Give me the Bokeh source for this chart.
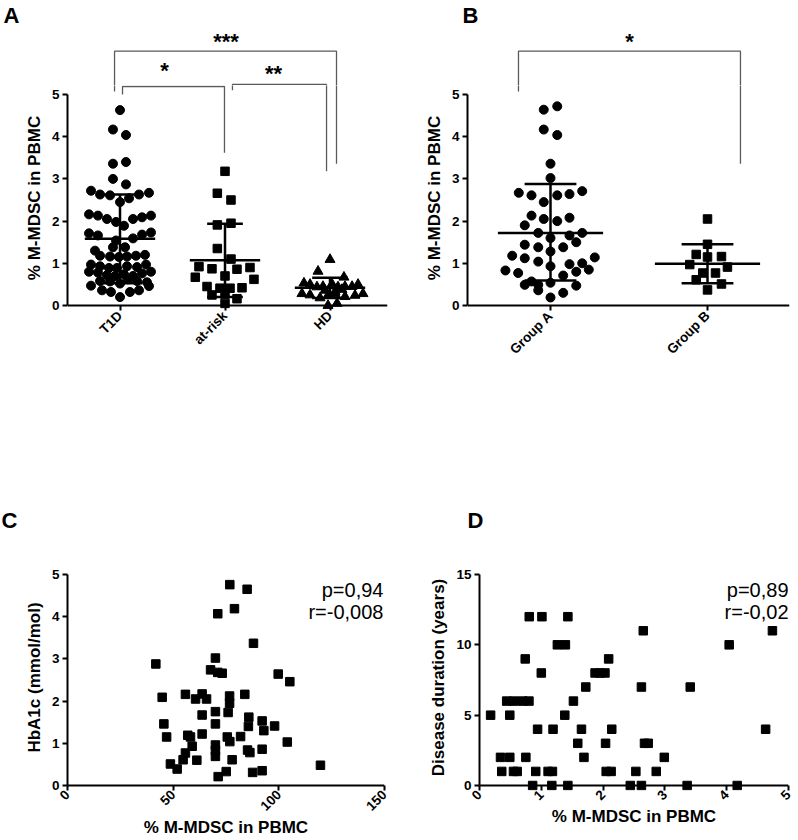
import math
from bokeh.plotting import figure
from bokeh.models import Range1d, FixedTicker, Span
from bokeh.layouts import row, column
from bokeh.embed import file_html
from bokeh.resources import INLINE
from bokeh.core.properties import value

FONT = "Liberation Sans"

# ---------------- Panel A data ----------------
cats_a = ["T1D", "at-risk", "HD"]
t1d_y = [4.63, 4.17, 4.04, 3.36, 3.40, 3.00, 2.87,
         2.72, 2.63, 2.61, 2.45, 2.54, 2.63, 2.67,
         2.16, 2.13, 2.05, 1.98, 1.89, 2.05, 2.09, 2.13,
         1.71, 1.66, 1.54, 1.59, 1.68, 1.73,
         1.30, 1.38, 1.38,
         1.18, 1.16, 1.15, 1.16, 1.18, 1.20,
         0.97, 0.93, 0.89, 0.89, 0.93, 0.91, 0.97,
         0.80, 0.78, 0.72, 0.70, 0.74, 0.70, 0.76, 0.80,
         0.58, 0.57, 0.52, 0.62, 0.58, 0.55,
         0.47, 0.46,
         0.36, 0.32, 0.32, 0.36,
         0.20]
t1d_jit = [0, -0.067, 0.057, -0.067, 0.057, -0.067, 0.057,
           -0.276, -0.19, -0.095, 0, 0.086, 0.181, 0.276,
           -0.295, -0.21, -0.124, -0.038, 0.038, 0.124, 0.21, 0.295,
           -0.295, -0.21, -0.038, 0.124, 0.21, 0.295,
           -0.238, -0.067, 0.048,
           -0.19, -0.095, -0.01, 0.067, 0.152, 0.238,
           -0.276, -0.19, -0.105, -0.029, 0.067, 0.162, 0.248,
           -0.295, -0.21, -0.124, -0.048, 0.038, 0.124, 0.21, 0.295,
           -0.19, -0.095, 0, 0.076, 0.162, 0.257,
           -0.276, 0.276,
           -0.171, -0.086, 0.095, 0.181,
           0]
risk_y = [3.18, 2.66, 2.50, 1.91, 1.95, 1.35, 1.10, 0.92, 0.87, 0.86, 0.90,
          0.67, 0.70, 0.62, 0.45, 0.41, 0.41, 0.42, 0.25, 0.27, 0.16, 0.05]
risk_jit = [0, -0.073, 0.057, -0.073, 0.057, -0.073, 0.057, -0.248, -0.124, 0.114, 0.238,
            -0.283, 0, 0.276, -0.171, -0.048, 0.048, 0.162, -0.124, 0, 0.114, 0]
hd_y = [1.09, 0.81, 0.67,
        0.53, 0.50, 0.44, 0.45, 0.51, 0.44, 0.45, 0.45, 0.50,
        0.28, 0.25, 0.18, 0.24, 0.28, 0.21, 0.24, 0.28,
        0.00, 0.05, 0.36, 0.33, 0.38]
hd_jit = [0, -0.114, 0.133,
          -0.248, -0.19, -0.124, -0.067, 0.019, 0.076, 0.143, 0.21, 0.267,
          -0.267, -0.19, -0.095, -0.019, 0.048, 0.143, 0.238, 0.314,
          -0.019, 0.067, -0.048, 0.048, 0.114]
a_mean = [1.58, 1.07, 0.42]
a_sd_hi = [2.63, 1.94, 0.66]
a_sd_lo = [0.53, 0.20, 0.18]
a_cap = [0.21, 0.17, 0.17]

# brackets: (x_left, x_right, y_top, y_left_end, y_right_end, stars, x_text, y_text)
a_brackets = [
    (0.948, 3.062, 6.04, 5.07, 3.36, "***", 2.01, 6.28),
    (1.024, 1.995, 5.19, 5.00, 3.62, "*", 1.424, 5.569),
    (2.071, 2.967, 5.24, 5.10, 3.18, "**", 2.462, 5.51),
]

# ---------------- Panel B data ----------------
cats_b = ["Group A", "Group B"]
ga_y = [4.64, 4.72, 4.17, 4.04, 3.36, 3.02,
        2.67, 2.61, 2.45, 2.61, 2.64, 2.71,
        2.13, 2.05, 2.00, 2.08,
        1.90, 1.72, 1.72, 1.66, 1.60,
        1.44, 1.38, 1.38, 1.50, 1.28,
        1.18, 1.12, 1.04, 1.14, 0.98, 1.00, 0.93,
        0.83, 0.77, 0.71, 0.80, 0.85,
        0.57, 0.49, 0.49, 0.54, 0.47,
        0.36, 0.30, 0.19]
ga_jit = [-0.043, 0.043, -0.043, 0.043, 0, 0,
          -0.202, -0.121, -0.043, 0.043, 0.121, 0.202,
          -0.121, -0.043, 0.043, 0.121,
          -0.164, -0.078, 0.202, 0.121, 0,
          -0.164, -0.078, 0.081, 0.164, 0,
          -0.244, -0.164, -0.078, 0.282, 0.121, 0.202, 0,
          -0.287, -0.206, 0.081, 0.164, 0.244,
          -0.121, -0.164, -0.078, 0, 0.164,
          -0.078, 0.081, 0]
gb_y = [2.05, 1.45, 1.21, 1.15, 1.16, 0.97, 0.91, 0.77, 0.77, 0.61, 0.51, 0.37]
gb_jit = [0, 0, -0.072, 0, 0.089, -0.113, 0.127, -0.03, 0.051, -0.072, 0.089, 0]
b_mean = [1.72, 0.99]
b_sd_hi = [2.88, 1.45]
b_sd_lo = [0.59, 0.53]
b_cap = [0.165, 0.165]
b_brackets = [(0.796, 2.21, 6.04, 5.07, 3.36, "*", 1.503, 6.268)]

# ---------------- Panel C data ----------------
c_x = [76.8, 85.0, 71.1, 79.0, 88.0, 41.8, 70.0, 67.7, 71.1, 73.2, 99.7, 105.2,
       44.8, 55.8, 60.6, 63.7, 65.8, 76.7, 83.9, 76.7, 76.0, 70.0, 63.7, 85.8,
       70.0, 45.6, 85.6, 92.1, 98.0, 92.9, 46.9, 56.9, 58.2, 63.7, 75.6, 81.9,
       76.8, 70.0, 104.0, 59.0, 70.0, 70.0, 85.2, 86.3, 92.1, 55.8, 54.7, 61.2,
       77.9, 48.7, 51.9, 75.1, 71.3, 87.6, 92.1, 119.7]
c_y = [4.76, 4.65, 4.07, 4.19, 3.37, 2.88, 3.02, 2.74, 2.68, 2.66, 2.64, 2.46,
       2.09, 2.16, 2.05, 2.17, 2.05, 2.12, 2.16, 1.95, 1.73, 1.75, 1.67, 1.62,
       1.46, 1.46, 1.40, 1.53, 1.41, 1.30, 1.15, 1.19, 1.15, 1.22, 1.15, 1.16,
       1.04, 0.96, 1.03, 0.93, 0.83, 0.69, 0.84, 0.78, 0.86, 0.77, 0.61, 0.60,
       0.61, 0.51, 0.39, 0.33, 0.21, 0.31, 0.35, 0.48]
c_stats = ["p=0,94", "r=-0,008"]

# ---------------- Panel D data ----------------
d_x = [0.805, 1.01, 1.43,
       2.65, 4.74,
       1.26, 1.39, 4.04,
       0.74, 2.09,
       1.00, 1.87, 1.95, 2.03,
       1.72, 2.62, 3.41,
       0.44, 0.56, 0.70, 0.80, 1.52,
       0.18, 0.49, 1.38,
       0.94, 1.19, 1.65, 2.14, 4.63,
       1.59, 2.04, 2.67, 2.73,
       0.34, 0.49, 0.75, 1.69, 2.99,
       0.36, 0.55, 0.61, 0.91, 1.11, 1.18, 2.05, 2.13, 2.53, 2.86,
       0.86, 1.17, 1.43, 2.44, 2.62, 3.36, 4.17]
d_y = [12, 12, 12,
       11, 11,
       10, 10, 10,
       9, 9,
       8, 8, 8, 8,
       7, 7, 7,
       6, 6, 6, 6, 6,
       5, 5, 5,
       4, 4, 4, 4, 4,
       3, 3, 3, 3,
       2, 2, 2, 2, 2,
       1, 1, 1, 1, 1, 1, 1, 1, 1, 1,
       0, 0, 0, 0, 0, 0, 0]
d_stats = ["p=0,89", "r=-0,02"]

panel_letters = ["A", "B", "C", "D"]
y_title_ab = "% M-MDSC in PBMC"
y_title_c = "HbA1c (mmol/mol)"
y_title_d = "Disease duration (years)"
x_title_cd = "% M-MDSC in PBMC"

HEAD_BORDER = 26


def header_fig(w, h, xr, yr, mbl, mbr, letter, offset):
    p = figure(width=w, height=h, x_range=Range1d(*xr), y_range=Range1d(*yr),
               output_backend="svg", toolbar_location=None,
               x_axis_location=None, y_axis_location=None,
               min_border_left=mbl, min_border_right=mbr,
               min_border_top=HEAD_BORDER, min_border_bottom=0)
    p.grid.visible = False
    p.outline_line_color = None
    p.background_fill_color = "white"
    p.border_fill_color = "white"
    p.title.text = letter
    p.title.align = "left"
    p.title.offset = offset
    p.title.standoff = 0
    p.title.vertical_align = "bottom"
    p.title.text_font = FONT
    p.title.text_font_style = "bold"
    p.title.text_font_size = "22px"
    p.title.text_color = "black"
    return p


def main_fig(w, h, xr, yr, mbl, mbr, mbb, xticks, yticks, ytitle, xtitle=None):
    p = figure(width=w, height=h, x_range=Range1d(*xr), y_range=Range1d(*yr),
               output_backend="svg", toolbar_location=None,
               min_border_left=mbl, min_border_right=mbr,
               min_border_top=0, min_border_bottom=mbb)
    p.grid.visible = False
    p.outline_line_color = None
    p.background_fill_color = "white"
    p.border_fill_color = "white"
    for ax in (p.xaxis[0], p.yaxis[0]):
        ax.major_tick_line_width = 2
        ax.major_tick_line_color = "black"
        ax.minor_tick_line_color = None
        ax.major_label_text_font = FONT
        ax.major_label_text_font_style = "bold"
        ax.major_label_text_font_size = "13.5px"
        ax.major_label_text_color = "black"
        ax.major_label_standoff = 3
        ax.axis_label_text_font = FONT
        ax.axis_label_text_font_style = "bold"
        ax.axis_label_text_font_size = "17px"
        ax.axis_label_text_color = "black"
    yax = p.yaxis[0]
    yax.axis_line_width = 2
    yax.axis_line_color = "black"
    yax.major_tick_out = 5
    yax.major_tick_in = 0
    yax.bounds = (yticks[0], yticks[-1])
    yax.ticker = FixedTicker(ticks=yticks)
    yax.axis_label = ytitle
    yax.axis_label_standoff = 5
    xax = p.xaxis[0]
    xax.axis_line_color = None
    xax.major_tick_out = 0
    xax.major_tick_in = 5
    xax.bounds = xr
    xax.ticker = FixedTicker(ticks=xticks)
    xax.major_label_orientation = math.pi / 4
    if xtitle:
        xax.axis_label = xtitle
        xax.axis_label_standoff = 0
        xax.major_label_standoff = 2
    p.add_layout(Span(location=0, dimension="width", line_color="black", line_width=2))
    return p


def add_text(p, x, y, text, size, bold=True, align="left", baseline="middle"):
    p.text(x=[x], y=[y], text=[text], text_font=value(FONT),
           text_font_style="bold" if bold else "normal", text_font_size=size,
           text_color="black", text_align=align, text_baseline=baseline)


def errbars(p, centers, mean, hi, lo, cap, half=0.335):
    p.segment(x0=centers, x1=centers, y0=lo, y1=hi, line_color="black", line_width=2.5)
    p.segment(x0=[c - half for c in centers], x1=[c + half for c in centers],
              y0=mean, y1=mean, line_color="black", line_width=2.5)
    for yv in (hi, lo):
        p.segment(x0=[c - k for c, k in zip(centers, cap)],
                  x1=[c + k for c, k in zip(centers, cap)],
                  y0=yv, y1=yv, line_color="black", line_width=2.5)


def bracket_lines(p, specs):
    for xl, xr_, yt, yl, yr_, stars, xt, yt2 in specs:
        p.line(x=[xl, xl, xr_, xr_], y=[yl, yt, yt, yr_], line_color="#5a5a5a", line_width=1.3)


def bracket_text(p, specs):
    for xl, xr_, yt, yl, yr_, stars, xt, yt2 in specs:
        add_text(p, xt, yt2, stars, "22px", align="center", baseline="middle")


# ====== geometry ======
KA, KB, KY5 = 105.0, 157.0, 42.2
EXT = 5.0 / KY5
Y0_TOP = 305           # page y of zero line in the top row
HEAD_TOP = 85          # header height of top row
ROW1_H = 505           # total height of the top row
Y_SPLIT = (Y0_TOP - HEAD_TOP) / KY5           # data y at header/main boundary
Y_HEAD = (Y_SPLIT, Y_SPLIT + (HEAD_TOP - HEAD_BORDER) / KY5)

# ---------------- Panel A ----------------
xa = (0.5, 0.5 + 320 / KA)
ha = header_fig(398, HEAD_TOP, xa, Y_HEAD, 67, 11, panel_letters[0], 3 - 67)
bracket_lines(ha, a_brackets)
bracket_text(ha, a_brackets)

pa = main_fig(398, ROW1_H - HEAD_TOP, xa, (-EXT, Y_SPLIT), 67, 11, ROW1_H - (Y0_TOP + 5),
              [1, 2, 3], [0, 1, 2, 3, 4, 5], y_title_ab)
pa.xaxis.major_label_overrides = {1: cats_a[0], 2: cats_a[1], 3: cats_a[2]}
bracket_lines(pa, a_brackets)
pa.scatter(x=[1 + j for j in t1d_jit], y=t1d_y, marker="circle", size=9,
           fill_color="black", line_color="black")
pa.scatter(x=[2 + j for j in risk_jit], y=risk_y, marker="square", size=8.5,
           fill_color="black", line_color="black")
pa.scatter(x=[3 + j for j in hd_jit], y=hd_y, marker="triangle", size=10,
           fill_color="black", line_color="black")
errbars(pa, [1, 2, 3], a_mean, a_sd_hi, a_sd_lo, a_cap)

# ---------------- Panel B ----------------
xb0 = 1 - (550 - 467) / KB
xbr = (xb0, xb0 + 322 / KB)
hb = header_fig(400, HEAD_TOP, xbr, Y_HEAD, 69, 9, panel_letters[1], 462 - 467)
bracket_lines(hb, b_brackets)
bracket_text(hb, b_brackets)

pb = main_fig(400, ROW1_H - HEAD_TOP, xbr, (-EXT, Y_SPLIT), 69, 9, ROW1_H - (Y0_TOP + 5),
              [1, 2], [0, 1, 2, 3, 4, 5], y_title_ab)
pb.xaxis.major_label_overrides = {1: cats_b[0], 2: cats_b[1]}
bracket_lines(pb, b_brackets)
pb.scatter(x=[1 + j for j in ga_jit], y=ga_y, marker="circle", size=9,
           fill_color="black", line_color="black")
pb.scatter(x=[2 + j for j in gb_jit], y=gb_y, marker="square", size=8.5,
           fill_color="black", line_color="black")
errbars(pb, [1, 2], b_mean, b_sd_hi, b_sd_lo, b_cap)

# ---------------- bottom row geometry ----------------
Y0 = 785                     # page y of zero line
TOP_PAD = 10                 # room above the top tick label
FR_TOP = Y0 - 211 - TOP_PAD  # frame top
HEAD2 = FR_TOP - ROW1_H      # header height bottom row
MAIN2 = 840 - FR_TOP
MBB2 = 840 - (Y0 + 5)

# ---------------- Panel C ----------------
xc = (0, 150)
hc = header_fig(398, HEAD2, xc, (0, 1), 67, 14, panel_letters[2], 1 - 67)
pc = main_fig(398, MAIN2, xc, (-EXT, 5 + TOP_PAD / KY5), 67, 14, MBB2,
              [0, 50, 100, 150], [0, 1, 2, 3, 4, 5], y_title_c, x_title_cd)
pc.scatter(x=c_x, y=c_y, marker="square", size=8.5, fill_color="black", line_color="black")
add_text(pc, 149.5, 4.64, c_stats[0], "20px", bold=False, align="right")
add_text(pc, 149.5, 4.10, c_stats[1], "20px", bold=False, align="right")

# ---------------- Panel D ----------------
KYD = 211 / 15.0
EXTD = 5.0 / KYD
xd = (0, 5)
hd = header_fig(400, HEAD2, xd, (0, 1), 81, 10, panel_letters[3], 467 - 479)
pd_ = main_fig(400, MAIN2, xd, (-EXTD, 15 + TOP_PAD / KYD), 81, 10, MBB2,
               [0, 1, 2, 3, 4, 5], [0, 5, 10, 15], y_title_d, x_title_cd)
pd_.scatter(x=d_x, y=d_y, marker="square", size=8.5, fill_color="black", line_color="black")
add_text(pd_, 5.0, 13.93, d_stats[0], "20px", bold=False, align="right")
add_text(pd_, 5.0, 12.3, d_stats[1], "20px", bold=False, align="right")

layout = column(row(column(ha, pa), column(hb, pb)), row(column(hc, pc), column(hd, pd_)))
open("out.html", "w").write(file_html(layout, INLINE))
